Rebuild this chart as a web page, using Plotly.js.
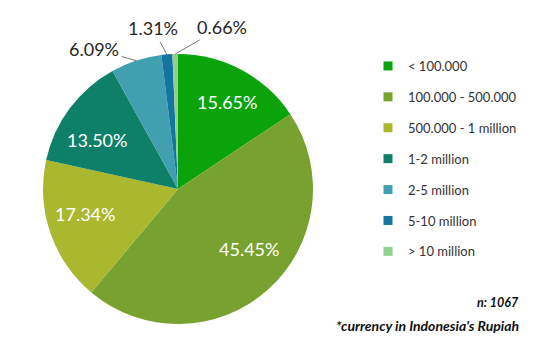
<!DOCTYPE html>
<html>
<head>
<meta charset="utf-8">
<script src="https://cdn.plot.ly/plotly-3.0.1.min.js"></script>
<style>html,body{margin:0;padding:0;background:#fff;}#chart{width:554px;height:347px;}</style>
</head>
<body>
<div id="chart"></div>
<script>
const categories = ['< 100.000', '100.000 - 500.000', '500.000 - 1 million', '1-2 million', '2-5 million', '5-10 million', '> 10 million'];
const shares = [15.65, 45.45, 17.34, 13.50, 6.09, 1.31, 0.66];
const colors = ['#0AA30A', '#78A22F', '#A9B82F', '#0F8068', '#41A0B0', '#1475A0', '#8FD18F'];
const sampleNote = 'n: 1067';
const currencyNote = '*currency in Indonesia\'s Rupiah';

const W = 554, H = 347;
const CX = 178, CY = 189, R = 135;

const pie = {
  type: 'pie',
  labels: categories,
  values: shares,
  sort: false,
  direction: 'clockwise',
  rotation: 0,
  marker: {colors: colors, line: {width: 0}},
  textinfo: 'none',
  hoverinfo: 'label+percent',
  showlegend: false,
  domain: {x: [(CX - R) / W, (CX + R) / W], y: [1 - (CY + R) / H, 1 - (CY - R) / H]}
};

const legendTraces = categories.map((c, i) => ({
  type: 'scatter', mode: 'markers', x: [null], y: [null],
  name: c, legendgroup: 'g' + i,
  marker: {symbol: 'square', size: 9, color: colors[i]},
  showlegend: true, hoverinfo: 'skip'
}));

// label annotations placed from slice angles (small layout nudges for inside labels)
const insideNudge = {0: [1, 0.74], 1: [-8, 0.685], 2: [4, 0.715], 3: [-5.5, 0.705]};
const outsideOffsets = {4: [-42, -12], 5: [-14, -26], 6: [47, -27]};
const total = shares.reduce((a, b) => a + b, 0);
const annotations = [];
let cum = 0;
shares.forEach((v, i) => {
  const mid = (cum + v / 2) / total * 2 * Math.PI;
  cum += v;
  const txt = v.toFixed(2) + '%';
  if (i < 4) {
    const n = insideNudge[i];
    const a = mid + n[0] * Math.PI / 180;
    const px = CX + n[1] * R * Math.sin(a);
    const py = CY - n[1] * R * Math.cos(a);
    annotations.push({x: px / W, y: 1 - py / H, xref: 'paper', yref: 'paper', xanchor: 'center', yanchor: 'middle',
      text: txt, showarrow: false, font: {family: 'Lato, sans-serif', size: 18, color: '#ffffff'}});
  } else {
    const px = CX + R * Math.sin(mid);
    const py = CY - R * Math.cos(mid);
    const off = outsideOffsets[i];
    annotations.push({x: px / W, y: 1 - py / H, xref: 'paper', yref: 'paper', text: txt, showarrow: true,
      ax: off[0], ay: off[1], arrowhead: 0, arrowwidth: 0.8, arrowcolor: '#555555', standoff: 0, startstandoff: 1,
      font: {family: 'Lato, sans-serif', size: 18, color: '#262626'}});
  }
});
annotations.push({x: 521 / W, y: 1 - 302 / H, xref: 'paper', yref: 'paper', xanchor: 'right', yanchor: 'middle',
  text: '<b><i>' + sampleNote + '</i></b>', showarrow: false, font: {family: 'Lato, sans-serif', size: 12.5, color: '#111111'}});
annotations.push({x: 521 / W, y: 1 - 325 / H, xref: 'paper', yref: 'paper', xanchor: 'right', yanchor: 'middle',
  text: '<b><i>' + currencyNote + '</i></b>', showarrow: false, font: {family: 'Lato, sans-serif', size: 14, color: '#111111'}});

const layout = {
  width: W, height: H,
  margin: {l: 0, r: 0, t: 0, b: 0},
  paper_bgcolor: '#ffffff', plot_bgcolor: '#ffffff',
  xaxis: {visible: false, domain: [0.99, 1]}, yaxis: {visible: false, domain: [0.99, 1]},
  showlegend: true,
  legend: {x: 368 / W, xanchor: 'left', y: 1 - 51 / H, yanchor: 'top', tracegroupgap: 11,
    traceorder: 'grouped', font: {family: 'Lato, sans-serif', size: 13, color: '#333333'}, bgcolor: 'rgba(0,0,0,0)'},
  annotations: annotations
};

Plotly.newPlot('chart', [pie].concat(legendTraces), layout, {displayModeBar: false, staticPlot: true});
</script>
</body>
</html>
